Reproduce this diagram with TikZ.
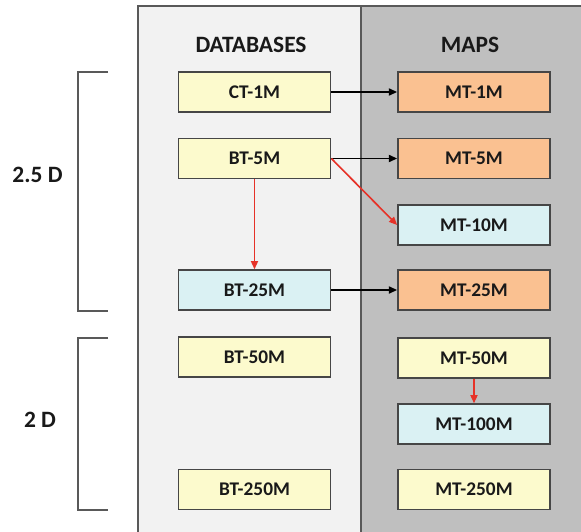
\documentclass[tikz,border=0pt]{standalone}
\usepackage{fontspec}
\setmainfont{Carlito}
\usetikzlibrary{arrows.meta, positioning}
\definecolor{colorPanelL}{RGB}{242, 242, 242}
\definecolor{colorPanelR}{RGB}{191, 191, 191}
\definecolor{colorYellow}{RGB}{252, 250, 205}
\definecolor{colorOrange}{RGB}{250, 193, 145}
\definecolor{colorCyan}{RGB}{218, 241, 243}
\definecolor{colorEdge}{RGB}{70, 70, 70}
\definecolor{colorRed}{RGB}{230, 50, 40}

\begin{document}
\begin{tikzpicture}[
  x=0.03cm, y=-0.03cm,
  box/.style={draw=colorEdge,line width=1.2pt,fill=#1,minimum width=4.57cm,
    minimum height=1.2cm,inner sep=0pt,font=\fontsize{16.5}{18}\selectfont\bfseries,
    text=black!90},
  box/.default=colorYellow,
  head/.style={font=\fontsize{20}{22}\selectfont\bfseries,text=black!90},
  panel/.style={draw=colorEdge!90,line width=1.2pt,fill=#1},
  brace/.style={draw=colorEdge!90,line width=1.2pt},
  arr/.style={-{Triangle[length=7pt,width=6pt]},line width=1.4pt},
  rarr/.style={arr,colorRed},
]
\useasboundingbox (0,0) rectangle (581,532);

% Panels
\path[panel=colorPanelL] (138,6) rectangle (361,540);
\path[panel=colorPanelR] (361,6) rectangle (590,540);

% Headers
\node[head] (dbhead) at (251,45) {DATABASES};
\node[head] (maphead) at (470,45) {MAPS};

% Databases column
\node[box] (ct1) at (254.5,92) {CT-1M};
\node[box] (bt5) at (254.5,158.5) {BT-5M};
\node[box=colorCyan] (bt25) at (254.5,290) {BT-25M};
\node[box] (bt50) at (254.5,357) {BT-50M};
\node[box] (bt250) at (254.5,489.5) {BT-250M};

% Maps column
\node[box=colorOrange] (mt1) at (474,92) {MT-1M};
\node[box=colorOrange] (mt5) at (474,158.5) {MT-5M};
\node[box=colorCyan] (mt10) at (474,225) {MT-10M};
\node[box=colorOrange] (mt25) at (474,290) {MT-25M};
\node[box] (mt50) at (474,358) {MT-50M};
\node[box=colorCyan] (mt100) at (474,424) {MT-100M};
\node[box] (mt250) at (474,489.5) {MT-250M};

% Brackets
\draw[brace] (108,72) -- (78,72) -- (78,311) -- (108,311);
\draw[brace] (108,338) -- (78,338) -- (78,510) -- (108,510);
\node[head] (lbl25) at (37.5,175) {2.5 D};
\node[head] (lbl2) at (40,420) {2 D};

% Arrows
\draw[arr] (ct1) -- (mt1);
\draw[arr] (bt5) -- (mt5);
\draw[arr] (bt25) -- (mt25);
\draw[rarr] (bt5.east) -- (mt10.west);
\draw[rarr] (bt5) -- (bt25);
\draw[rarr] (mt50) -- (mt100);

\end{tikzpicture}
\end{document}
